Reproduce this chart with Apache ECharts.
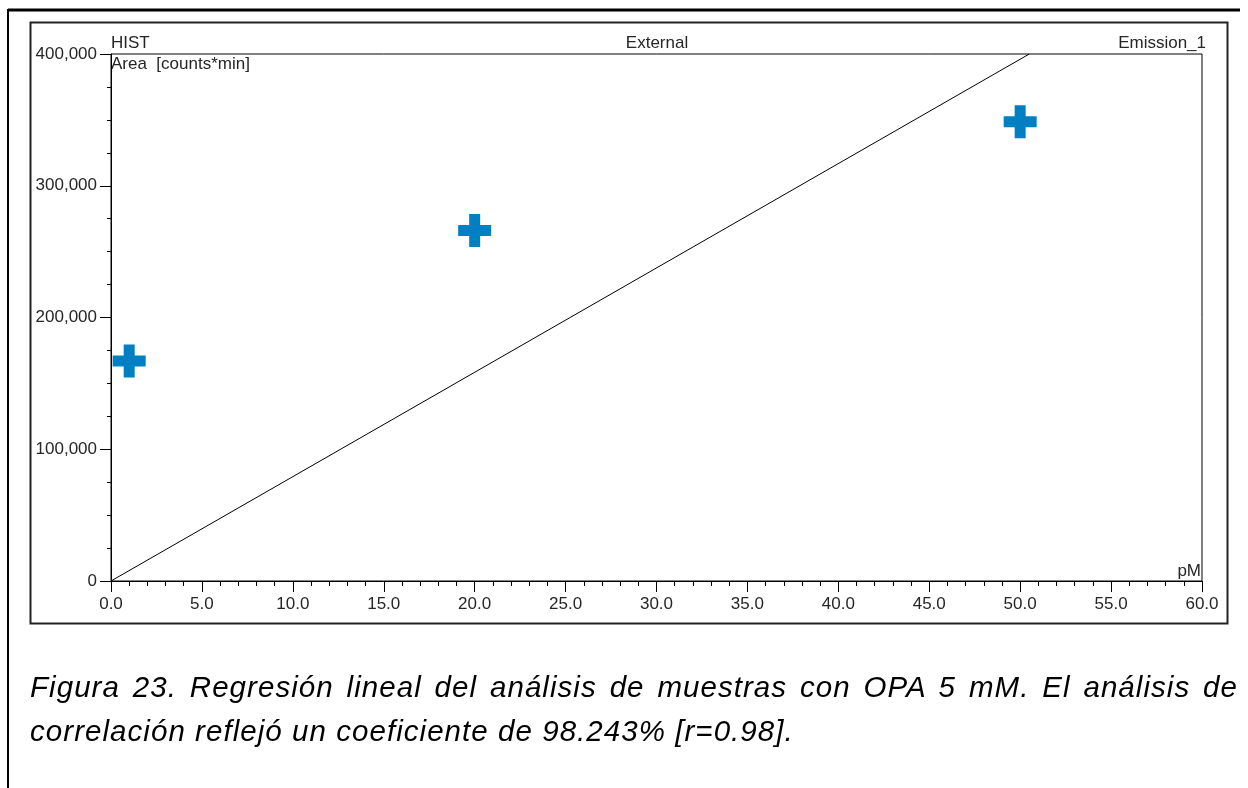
<!DOCTYPE html>
<html>
<head>
<meta charset="utf-8">
<script src="https://cdn.jsdelivr.net/npm/echarts@6/dist/echarts.min.js"></script>
<style>
  html, body { margin: 0; padding: 0; background: #fff; }
  #wrap { position: relative; width: 1248px; height: 788px; overflow: hidden; }
  #chart { position: absolute; left: 0; top: 0; width: 1248px; height: 788px; }
  .cap { position: absolute; left: 30px; font-family: "Liberation Sans", Arial, sans-serif; font-style: italic; font-size: 29.5px; line-height: 44px; color: #000; white-space: nowrap; letter-spacing: 1.05px; }
  #cap1 { top: 665px; width: 1208px; text-align: justify; text-align-last: justify; white-space: normal; }
  #cap2 { top: 709px; }
</style>
</head>
<body>
<div id="wrap">
  <div id="chart"></div>
  <div class="cap" id="cap1">Figura 23. Regresión lineal del análisis de muestras con OPA 5 mM. El análisis de</div>
  <div class="cap" id="cap2">correlación reflejó un coeficiente de 98.243% [r=0.98].</div>
</div>
<script>
// Data
const concentrations = [1, 20, 50];          // pM
const areas = [167000, 266000, 348600];      // counts*min
const fitX = [0, 50.5];                      // regression line endpoints (pM)
const fitY = [0, 400000];                    // regression line endpoints (area)
const xTicks = { min: 0, max: 60, interval: 5 };
const yTicks = { min: 0, max: 400000, interval: 100000 };

const chart = echarts.init(document.getElementById('chart'), null, { renderer: 'canvas' });
const txt = '#262626';
const font = '"Liberation Sans", Arial, sans-serif';

const plusPath = 'path://M1,0H2V1H3V2H2V3H1V2H0V1H1Z';

chart.setOption({
  animation: false,
  backgroundColor: '#fff',
  grid: { left: 111, top: 54, right: 46, bottom: 207, show: true, borderColor: '#000', borderWidth: 1, backgroundColor: 'transparent' },
  xAxis: {
    type: 'value', min: xTicks.min, max: xTicks.max, interval: xTicks.interval,
    axisLine: { show: true, lineStyle: { color: '#000', width: 1 } },
    axisTick: { show: true, length: 11, lineStyle: { color: '#000' } },
    minorTick: { show: true, splitNumber: 5, length: 5, lineStyle: { color: '#000' } },
    splitLine: { show: false },
    axisLabel: { color: txt, fontFamily: font, fontSize: 17, margin: 15, formatter: v => v.toFixed(1) }
  },
  yAxis: {
    type: 'value', min: yTicks.min, max: yTicks.max, interval: yTicks.interval,
    axisLine: { show: true, lineStyle: { color: '#000', width: 1 } },
    axisTick: { show: true, length: 11, lineStyle: { color: '#000' } },
    minorTick: { show: true, splitNumber: 4, length: 4, lineStyle: { color: '#000' } },
    splitLine: { show: false },
    axisLabel: { color: txt, fontFamily: font, fontSize: 17, margin: 14, formatter: v => v.toLocaleString('en-US') }
  },
  graphic: [
    { type: 'line', shape: { x1: 8, y1: 10, x2: 1240, y2: 10 }, style: { stroke: '#000', lineWidth: 3 } },
    { type: 'line', shape: { x1: 8, y1: 9, x2: 8, y2: 788 }, style: { stroke: '#000', lineWidth: 2 } },
    { type: 'rect', shape: { x: 30.5, y: 22.5, width: 1197, height: 601 }, style: { fill: 'none', stroke: '#222', lineWidth: 2 } },
    { type: 'text', left: 111, top: 35, style: { text: 'HIST', fill: txt, font: '17px ' + font } },
    { type: 'text', left: 111, top: 56, style: { text: 'Area  [counts*min]', fill: txt, font: '17px ' + font } },
    { type: 'text', x: 657, y: 35, style: { text: 'External', fill: txt, font: '17px ' + font, align: 'center' } },
    { type: 'text', x: 1206, y: 35, style: { text: 'Emission_1', fill: txt, font: '17px ' + font, align: 'right' } },
    { type: 'text', x: 1201, y: 563, style: { text: 'pM', fill: txt, font: '17px ' + font, align: 'right' } }
  ],
  series: [
    {
      type: 'line', data: fitX.map((x, i) => [x, fitY[i]]), showSymbol: false, symbol: 'none',
      lineStyle: { color: '#000', width: 1 }, clip: true, z: 2
    },
    {
      type: 'scatter', data: concentrations.map((x, i) => [x, areas[i]]),
      symbol: plusPath, symbolSize: 33, itemStyle: { color: '#0080c3', opacity: 1 }, z: 3
    }
  ]
});
</script>
</body>
</html>
